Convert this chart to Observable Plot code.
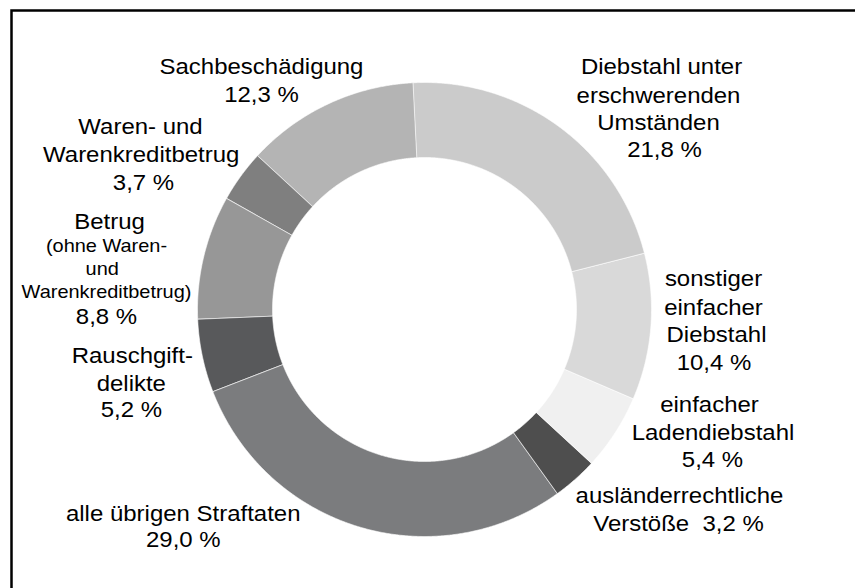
<!DOCTYPE html>
<html><head><meta charset="utf-8">
<script src="https://cdn.jsdelivr.net/npm/d3@7"></script>
<script src="https://cdn.jsdelivr.net/npm/@observablehq/plot@0.6"></script>
<style>html,body{margin:0;padding:0;background:#fff;overflow:hidden}</style>
</head><body><div id="chart"></div>
<script>
// ---- data ----
const categories = [
  "Diebstahl unter erschwerenden Umständen",
  "sonstiger einfacher Diebstahl",
  "einfacher Ladendiebstahl",
  "ausländerrechtliche Verstöße",
  "alle übrigen Straftaten",
  "Rauschgiftdelikte",
  "Betrug (ohne Waren- und Warenkreditbetrug)",
  "Waren- und Warenkreditbetrug",
  "Sachbeschädigung"
];
const shares = [21.8, 10.4, 5.4, 3.2, 29.0, 5.2, 8.8, 3.7, 12.3];
const colors = ["#cbcbcb", "#d9d9d9", "#f0f0f0", "#4e4e4e", "#7b7c7e", "#58595b", "#979797", "#7f7f7f", "#b4b4b4"];
const labelLines = [
  ["Diebstahl unter", "erschwerenden", "Umständen", "21,8 %"],
  ["sonstiger", "einfacher", "Diebstahl", "10,4 %"],
  ["einfacher", "Ladendiebstahl", "5,4 %"],
  ["ausländerrechtliche", "Verstöße\u00a0 3,2 %"],
  ["alle übrigen Straftaten", "29,0 %"],
  ["Rauschgift-", "delikte", "5,2 %"],
  ["Betrug", "(ohne Waren-", "und", "Warenkreditbetrug)", "8,8 %"],
  ["Waren- und", "Warenkreditbetrug", "3,7 %"],
  ["Sachbeschädigung", "12,3 %"]
];

// ---- layout (pixels: centre x, baseline y, small?) ----
const cx = 424, cy = 309, R = 227, innerRatio = 152 / 227;
const startDeg = -2.9;
const labelLayout = [
  [[661, 73], [658, 102], [658, 129.4], [664, 156.7]],
  [[713, 285.7], [713, 314], [716, 341], [713.5, 369]],
  [[709, 411.7], [712.5, 439.3], [712, 466.7]],
  [[679, 502.7], [678, 530]],
  [[182.7, 520.4], [182.8, 546.7]],
  [[131.8, 362.7], [130.8, 390], [130.8, 416.7]],
  [[109, 228.3], [106, 251.7, 1], [101.7, 274.3, 1], [106, 297.3, 1], [106, 323.3]],
  [[140, 133.5], [140.7, 161], [143, 189]],
  [[261, 73.5], [261, 101.7]]
];

// ---- build arc polygons from the data ----
const a0 = startDeg * Math.PI / 180;
const arcs = d3.pie().sort(null).value(d => d).startAngle(a0).endAngle(a0 + 2 * Math.PI)(shares);
const pts = [];
arcs.forEach((a, i) => {
  const n = Math.max(2, Math.ceil((a.endAngle - a.startAngle) / 0.005));
  for (let j = 0; j <= n; j++) {
    const t = a.startAngle + (a.endAngle - a.startAngle) * j / n;
    pts.push({k: categories[i], c: colors[i], x: Math.sin(t), y: Math.cos(t)});
  }
  for (let j = n; j >= 0; j--) {
    const t = a.startAngle + (a.endAngle - a.startAngle) * j / n;
    pts.push({k: categories[i], c: colors[i], x: innerRatio * Math.sin(t), y: innerRatio * Math.cos(t)});
  }
});

const texts = [];
labelLines.forEach((lines, i) => {
  lines.forEach((s, j) => {
    const [px, py, small] = labelLayout[i][j];
    texts.push({text: s, x: (px - cx) / R, y: (cy - py) / R, size: small ? 18.3 : 22});
  });
});

const font = "'Liberation Sans', Arial, Helvetica, sans-serif";
const chart = Plot.plot({
  width: 855,
  height: 588,
  margin: 0,
  x: {domain: [-1, 1], range: [cx - R, cx + R], axis: null},
  y: {domain: [-1, 1], range: [cy + R, cy - R], axis: null},
  color: {type: "identity"},
  style: {fontFamily: font, background: "white"},
  marks: [
    Plot.frame({stroke: "black", strokeWidth: 2.5, insetLeft: 11, insetTop: 10, insetRight: -20, insetBottom: -20}),
    Plot.line(pts, {x: "x", y: "y", z: "k", fill: "c", stroke: "white", strokeWidth: 1, strokeOpacity: 0.6, curve: "linear-closed"}),
    Plot.text(texts, {x: "x", y: "y", text: "text", fontSize: "size", lineAnchor: "bottom", textAnchor: "middle", fill: "black", fontFamily: font})
  ]
});
document.getElementById("chart").appendChild(chart);

// stretch the text horizontally like the reference rendering
chart.querySelectorAll('g[aria-label="text"] text').forEach(t => {
  const tr = t.getAttribute("transform");
  if (tr) t.setAttribute("transform", tr + " scale(1.09,1)");
  else {
    const x = +t.getAttribute("x") || 0, y = +t.getAttribute("y") || 0;
    t.setAttribute("transform", `translate(${x},${y}) scale(1.09,1) translate(${-x},${-y})`);
  }
});
</script>
</body></html>
